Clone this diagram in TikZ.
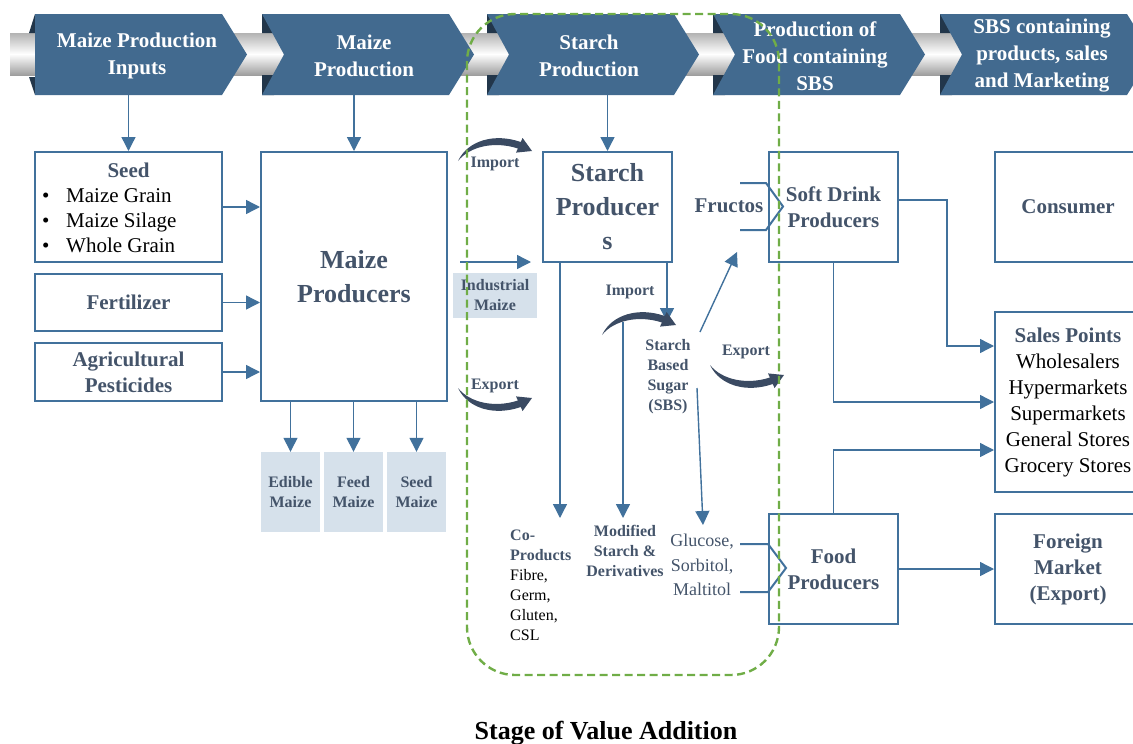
\documentclass[tikz,border=0pt]{standalone}
\usepackage{fontspec}
\setmainfont{Liberation Serif}
\usetikzlibrary{arrows.meta}

\definecolor{bannerblue}{HTML}{426A8F}
\definecolor{bannerdark}{HTML}{22364A}
\definecolor{boxblue}{HTML}{41719C}
\definecolor{slate}{HTML}{44546A}
\definecolor{paleblue}{HTML}{D6E1EB}
\definecolor{curvedark}{HTML}{3A4A62}
\definecolor{dashgreen}{HTML}{70AD47}

\begin{document}
\begin{tikzpicture}[x=1pt,y=-1pt,>={Triangle[length=14pt,width=14pt]},
    box/.style={draw=boxblue,line width=2pt,fill=white,inner sep=2pt},
    palebox/.style={fill=paleblue,inner sep=0pt},
    link/.style={draw=boxblue,line width=1.4pt,->},
    edge/.style={draw=boxblue,line width=2pt},
    bigtxt/.style={font=\bfseries\fontsize{26}{34}\selectfont,text=slate,align=center},
    midtxt/.style={font=\bfseries\fontsize{21}{26}\selectfont,text=slate,align=center},
    smalltxt/.style={font=\bfseries\fontsize{16}{20}\selectfont,text=slate,align=center},
    stagetxt/.style={font=\bfseries\fontsize{21}{27}\selectfont,text=white,align=center},
    bendarrow/.pic={\fill[curvedark] (0,0) .. controls (10,-21) and (37,-28) .. (62.7,-19)
        -- (64.6,-23) -- (74,-10) -- (58,-8.4) -- (59.9,-12.5)
        .. controls (37,-20) and (12,-15) .. (0,0) -- cycle;}]
    \useasboundingbox (0,0) rectangle (1133,744);

    % value chain banner
    \shade[top color=black!30,bottom color=black!38,middle color=white] (10,33) rectangle (1140,75);
    \foreach \L/\txt [count=\i] in {35/{Maize Production\\Inputs},262/{Maize\\Production},
        487/{Starch\\Production},713/{Production of\\Food containing\\SBS},
        940/{SBS containing\\products, sales\\and Marketing}}{
        \ifnum\i=1
            \fill[bannerdark] (\L-6,33) -- (\L,14) -- (\L,33) -- cycle;
            \fill[bannerdark] (\L-6,77) -- (\L,95) -- (\L,77) -- cycle;
            \fill[bannerblue] (\L,14) -- ++(187,0) -- ++(25,40.5) -- ++(-25,40.5) -- ++(-187,0) -- cycle;
        \else
            \fill[bannerdark] (\L,14) rectangle ++(12,19) (\L,75) rectangle ++(12,20);
            \fill[bannerblue] (\L,14) -- ++(187,0) -- ++(25,40.5) -- ++(-25,40.5) -- ++(-187,0) -- ++(22,-40.5) -- cycle;
        \fi
        \node[stagetxt] (stage\i) at (\L+102,56) {\txt};
        \coordinate (chev\i) at (\L+93,95);
    }

    % maize inputs
    \node[box,minimum width=187pt,minimum height=110pt] (seed) at (128.5,207) {};
    \node[midtxt] at (128.5,170) {Seed};
    \node[font=\fontsize{21}{25}\selectfont,align=left,anchor=west,inner sep=3.3pt] at (38.7,221)
        {\makebox[24pt][l]{\textbullet}Maize Grain\\\makebox[24pt][l]{\textbullet}Maize Silage\\\makebox[24pt][l]{\textbullet}Whole Grain};
    \node[box,midtxt,minimum width=187pt,minimum height=57pt] (fert) at (128.5,302.5) {Fertilizer};
    \node[box,midtxt,minimum width=187pt,minimum height=58pt] (pest) at (128.5,372) {Agricultural\\Pesticides};
    \node[box,bigtxt,minimum width=186pt,minimum height=249pt] (mprod) at (354,276.5) {Maize\\Producers};

    \draw[link] (seed.north |- chev1) -- (seed.north);
    \draw[link] (mprod.north |- chev2) -- (mprod.north);
    \draw[link] (seed.east) -- (seed.east -| mprod.west);
    \draw[link] (fert.east) -- (fert.east -| mprod.west);
    \draw[link] (pest.east) -- (pest.east -| mprod.west);

    \node[palebox,smalltxt,minimum width=59pt,minimum height=80pt] (edible) at (290.5,492) {Edible\\Maize};
    \node[palebox,smalltxt,minimum width=59pt,minimum height=80pt] (feed) at (353.5,492) {Feed\\Maize};
    \node[palebox,smalltxt,minimum width=59pt,minimum height=80pt] (seedmz) at (416.5,492) {Seed\\Maize};
    \foreach \n in {edible,feed,seedmz}
        \draw[link] (mprod.south -| \n.north) -- (\n.north);

    % starch production
    \node[box,bigtxt,minimum width=129pt,minimum height=110pt] (starch) at (607.5,207) {Starch\\Producer\\s};
    \draw[link] (starch.north |- chev3) -- (starch.north);

    \pic at (458,161) {bendarrow};
    \node[smalltxt] (imp1) at (495,164) {Import};
    \coordinate (indin) at (460,262);
    \coordinate (indout) at (531,262);
    \draw[link] (indin) -- (indout);
    \node[palebox,smalltxt,minimum width=84pt,minimum height=45pt] (indmaize) at (495,295.5) {Industrial\\Maize};
    \pic[yscale=-1] at (458,388) {bendarrow};
    \node[smalltxt] (exp1) at (495,386) {Export};

    \coordinate (cptop) at (560,518);
    \coordinate (mstop) at (623,322);
    \coordinate (mstip) at (623,518);
    \coordinate (sbsin) at (667,322);
    \draw[link] (starch.south -| cptop) -- (cptop);
    \draw[link] (starch.south -| sbsin) -- (sbsin);
    \node[smalltxt] (imp2) at (630,292) {Import};
    \pic at (602,335) {bendarrow};
    \draw[link] (mstop) -- (mstip);

    \node[smalltxt] (sbs) at (668,377) {Starch\\Based\\Sugar\\(SBS)};
    \coordinate (sbsup) at (700,332);
    \coordinate (fructin) at (737,252);
    \draw[link] (sbsup) -- (fructin);
    \coordinate (sbsdown) at (697,388);
    \coordinate (glutip) at (703,525);
    \draw[link] (sbsdown) -- (glutip);
    \pic[yscale=-1] at (710,365) {bendarrow};
    \node[smalltxt] (exp2) at (746,352) {Export};

    \node[font=\fontsize{16}{20}\selectfont,align=left,anchor=west,inner sep=3.3pt] (coprod) at (506.7,585)
        {\textcolor{slate}{\bfseries Co-}\\\textcolor{slate}{\bfseries Products}\\Fibre,\\Germ,\\Gluten,\\CSL};
    \node[smalltxt] (modst) at (625,551) {Modified\\Starch \&\\Derivatives};
    \node[font=\fontsize{18}{24.5}\selectfont,text=slate,align=center] (glucose) at (702,565) {Glucose,\\Sorbitol,\\Maltitol};
    \node[midtxt] (fructos) at (729,206) {Fructos};

    % food with SBS
    \node[box,midtxt,minimum width=129pt,minimum height=110pt] (soft) at (833.5,207) {Soft Drink\\Producers};
    \node[box,midtxt,minimum width=129pt,minimum height=110pt] (food) at (833.5,569) {Food\\Producers};
    \draw[edge] (740,183) -- (766,183) -- (783,206.5) -- (766,230) -- (740,230);
    \draw[edge] (740,544) -- (768,544) -- (786,568) -- (768,592) -- (740,592);

    % sales and marketing
    \node[box,midtxt,minimum width=146pt,minimum height=110pt] (consumer) at (1068,207) {Consumer};
    \node[box,font=\fontsize{21}{26}\selectfont,align=center,minimum width=146pt,minimum height=180pt] (sales) at (1068,402)
        {\textcolor{slate}{\bfseries Sales Points}\\Wholesalers\\Hypermarkets\\Supermarkets\\General Stores\\Grocery Stores};
    \node[box,midtxt,minimum width=146pt,minimum height=110pt] (foreign) at (1068,569) {Foreign\\Market\\(Export)};

    \draw[link] ([yshift=7pt]soft.east) -- ++(48,0) |- ([yshift=56pt]sales.west);
    \draw[link] (soft.south) |- (sales.west);
    \draw[link] (food.north) |- ([yshift=-48pt]sales.west);
    \draw[link] (food.east) -- (foreign.west);

    % value addition stage
    \draw[dashgreen,line width=2.4pt,dash pattern=on 8pt off 4.5pt,rounded corners=48pt] (467,14) rectangle (779,675);
    \node[font=\bfseries\fontsize{26}{30}\selectfont] (title) at (606,733) {Stage of Value Addition};
\end{tikzpicture}
\end{document}
